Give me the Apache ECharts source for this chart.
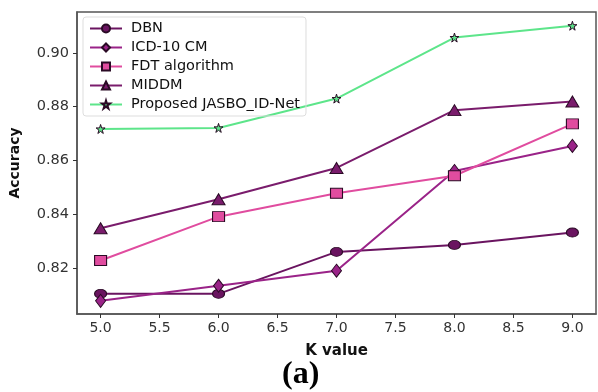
<!DOCTYPE html>
<html>
<head>
<meta charset="utf-8">
<script src="https://cdn.jsdelivr.net/npm/echarts@6/dist/echarts.min.js"></script>
<style>
  html, body { margin: 0; padding: 0; background: #fff; }
  #main { width: 598px; height: 392px; }
</style>
</head>
<body>
<div id="main"></div>
<script>
const kValues = [5, 6, 7, 8, 9];
const dbn = [0.8104, 0.8104, 0.8260, 0.8286, 0.8332];
const icd10 = [0.8078, 0.8134, 0.8190, 0.8561, 0.8654];
const fdt = [0.8228, 0.8391, 0.8478, 0.8543, 0.8736];
const middm = [0.8348, 0.8456, 0.8572, 0.8787, 0.8819];
const jasbo = [0.8717, 0.8721, 0.8830, 0.9057, 0.9101];
const xTicks = [5, 5.5, 6, 6.5, 7, 7.5, 8, 8.5, 9];
const yTicks = [0.82, 0.84, 0.86, 0.88, 0.90];

const starPath = 'path://M50,0 L61,35 L98,35 L68,57 L79,91 L50,70 L21,91 L32,57 L2,35 L39,35 Z';

const pairs = ys => kValues.map((k, i) => [k, ys[i]]);

const mk = (name, ys, color, fill, symbol, size) => ({
  name: name,
  type: 'line',
  data: pairs(ys),
  symbol: symbol,
  symbolSize: size,
  lineStyle: { color: color, width: 2 },
  itemStyle: { color: fill, borderColor: '#2a0a25', borderWidth: 1 },
  emphasis: { disabled: true }
});

const chart = echarts.init(document.getElementById('main'));
chart.setOption({
  animation: false,
  grid: { left: 77, right: 2, top: 12, bottom: 78, show: true, borderColor: '#555', borderWidth: 1.5, outerBoundsMode: 'none', containLabel: false },
  legend: {
    orient: 'vertical',
    left: 83, top: 17,
    itemWidth: 32, itemHeight: 10, itemGap: 4,
    padding: [4, 6, 4, 6],
    borderColor: '#ddd', borderWidth: 1, borderRadius: 3,
    textStyle: { fontFamily: 'DejaVu Sans', fontSize: 14.5, color: '#111', padding: [0, 0, 0, 4] },
    data: ['DBN', 'ICD-10 CM', 'FDT algorithm', 'MIDDM', 'Proposed JASBO_ID-Net']
  },
  xAxis: {
    type: 'value', min: 4.8, max: 9.2,
    name: 'K value', nameLocation: 'middle', nameGap: 30,
    nameTextStyle: { fontFamily: 'DejaVu Sans', fontWeight: 'bold', fontSize: 15, color: '#111' },
    axisLine: { show: true, lineStyle: { color: '#555', width: 1.5 } },
    axisTick: { show: true, length: 4, customValues: xTicks, lineStyle: { color: '#333' } },
    axisLabel: { customValues: xTicks, formatter: v => v.toFixed(1), fontFamily: 'DejaVu Sans', fontSize: 14, color: '#333', margin: 7 },
    splitLine: { show: false }
  },
  yAxis: {
    type: 'value', min: 0.8029, max: 0.9152,
    name: 'Accuracy', nameLocation: 'middle', nameGap: 55,
    nameTextStyle: { fontFamily: 'DejaVu Sans', fontWeight: 'bold', fontSize: 14, color: '#111' },
    axisLine: { show: true, lineStyle: { color: '#555', width: 1.5 } },
    axisTick: { show: true, length: 4, customValues: yTicks, lineStyle: { color: '#333' } },
    axisLabel: { customValues: yTicks, formatter: v => v.toFixed(2), fontFamily: 'DejaVu Sans', fontSize: 14.5, color: '#333', margin: 8 },
    splitLine: { show: false }
  },
  graphic: [{
    type: 'text', left: 282, top: 359,
    style: { text: '(a)', font: 'bold 32px "Liberation Serif"', fill: '#000' }
  }],
  series: [
    mk('DBN', dbn, '#6a1460', '#6a1460', 'circle', [12, 9]),
    mk('ICD-10 CM', icd10, '#9a2388', '#9a2388', 'diamond', [10, 13]),
    mk('FDT algorithm', fdt, '#e04c9f', '#e04c9f', 'rect', [12, 10]),
    mk('MIDDM', middm, '#7a1c6c', '#7a1c6c', 'triangle', [13, 11]),
    mk('Proposed JASBO_ID-Net', jasbo, '#5de58a', '#5de58a', starPath, 9)
  ]
});
</script>
</body>
</html>
